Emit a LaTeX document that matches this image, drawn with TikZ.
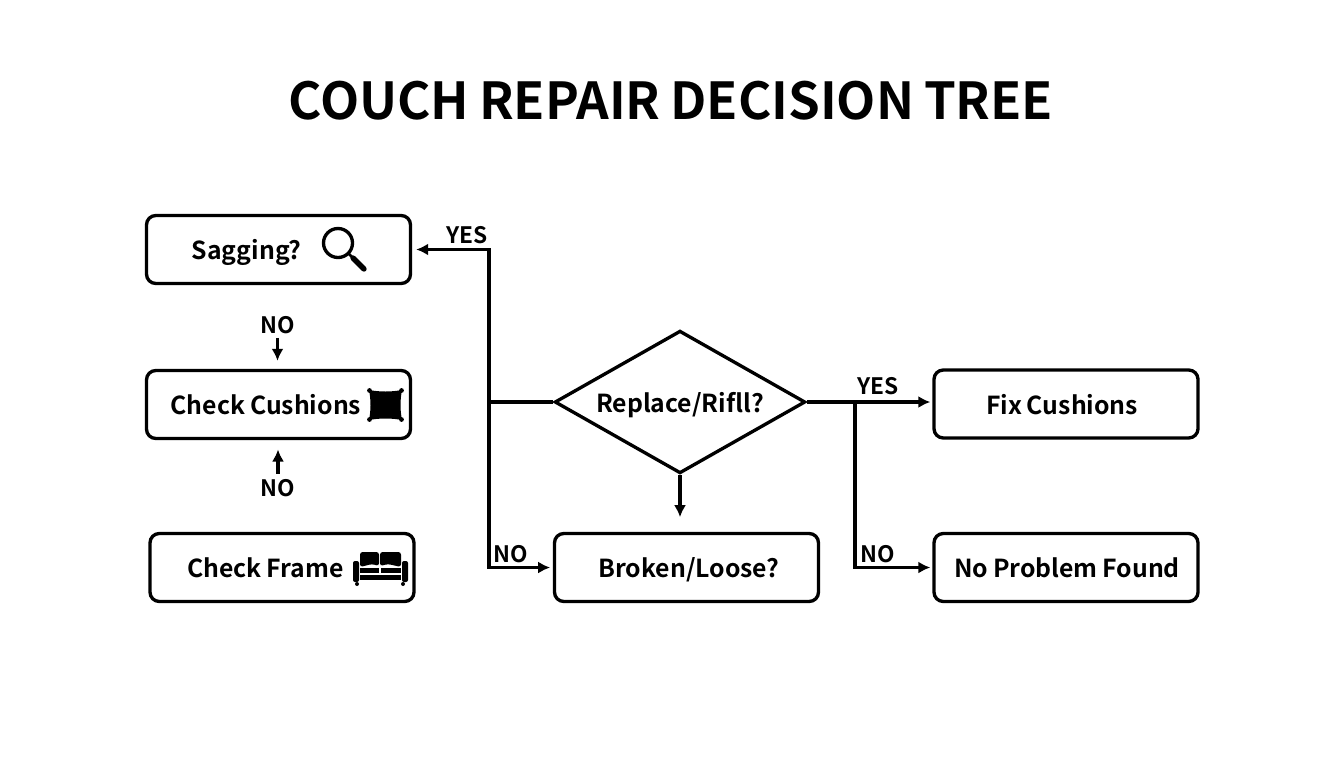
\documentclass[tikz,border=0pt]{standalone}
\usepackage{fontspec}
\setmainfont{Noto Sans CJK SC}[BoldFont={* Bold},WordSpace=0.85]
\usetikzlibrary{arrows.meta,shapes.geometric}
\newcommand{\pad}[1]{\spaceskip=.2em\relax\hspace*{#1pt}}
\tikzset{
    box/.style={draw, line width=2.5pt, rounded corners=7pt, inner sep=0pt,
        text width=198pt, minimum height=51pt, align=left,
        text height=17pt, text depth=1.5pt, font=\bfseries\fontsize{18.6}{22}\selectfont},
    choice/.style={draw, diamond, line width=2.5pt, inner sep=0pt, aspect=1.75,
        minimum width=188pt, minimum height=107pt,
        text height=17pt, text depth=1.5pt, font=\bfseries\fontsize{18.6}{22}\selectfont},
    flow/.style={line width=2.3pt, -{Latex[length=9pt,width=9pt]}},
    link/.style={line width=2.3pt},
    tag/.style={inner sep=0pt, font=\bfseries\fontsize{17}{20}\selectfont},
}
\begin{document}
\begin{tikzpicture}[x=0.75pt,y=-0.75pt]
    \useasboundingbox (0,0) rectangle (1344,768);

    % Title
    \node[inner sep=0pt, font=\bfseries\fontsize{38.2}{46}\selectfont] (title) at (671,101) {COUCH REPAIR DECISION TREE};

    % Left column
    \node[box] (sagging) at (278.5,249.5) {\pad{34}Sagging?};
    \node[box] (cushions) at (278.5,404.5) {\pad{18}Check Cushions};
    \node[box] (frame) at (282,567.5) {\pad{28}Check Frame};

    % Decision and right side
    \node[choice] (replace) at (680,402) {Replace/Rifll?};
    \node[box] (broken) at (686.5,567.5) {\pad{33}Broken/Loose?};
    \node[box] (fix) at (1066,404) {\pad{39}Fix Cushions};
    \node[box] (nofault) at (1066,567.5) {\pad{15}No Problem Found};

    % Labels
    \node[tag] (yesleft) at (467,235) {YES};
    \node[tag] (yesright) at (878,386) {YES};
    \node[tag] (notop) at (277.5,325) {NO};
    \node[tag] (nobottom) at (278,488) {NO};
    \node[tag] (nomiddle) at (510.5,554) {NO};
    \node[tag] (noright) at (877.5,554) {NO};

    % Connectors
    \coordinate (split) at (489,402);
    \coordinate (branch) at (855,402);
    \draw[link] (replace.west) -- (split);
    \draw[flow, shorten >=3pt] (split) |- (sagging.east);
    \draw[flow, shorten >=2pt] (split) |- (broken.west);
    \draw[flow, shorten >=1.5pt] (replace.east) -- (replace.east -| fix.west);
    \draw[flow, shorten >=1.5pt] (branch) |- (nofault.west);
    \draw[flow, shorten >=11pt] (replace.south) -- (replace.south |- broken.north);
    \draw[flow, shorten <=3pt, shorten >=6pt] (notop) -- (notop |- cushions.north);
    \draw[flow, shorten <=4pt, shorten >=7pt] (nobottom) -- (nobottom |- cushions.south);

    % Magnifier
    \draw[line width=2.5pt] (338,243) circle (14.5);
    \draw[line width=2pt] (349,254) -- (354,259);
    \draw[line width=4pt, line cap=round] (353,258) -- (364,269);

    % Cushion
    \fill (369,390) .. controls (380,392) and (391,392) .. (402,390)
        .. controls (400,400) and (400,410) .. (402,420)
        .. controls (391,418) and (380,418) .. (369,420)
        .. controls (371,410) and (371,400) .. (369,390) -- cycle;
    \foreach \x/\y in {369.5/390.5,401.5/390.5,369.5/419.5,401.5/419.5}
        \fill (\x,\y) circle (2.4);

    % Sofa
    \fill[rounded corners=2pt] (360,567) -- (360,552) -- (379,552) -- (379,566) -- (372,564) -- cycle;
    \fill[rounded corners=2pt] (380,566) -- (380,552) -- (401,552) -- (401,567) -- (388,564) -- cycle;
    \fill[rounded corners=1.5pt] (353,561) rectangle (359,582);
    \fill[rounded corners=1.5pt] (402,561) rectangle (408,582);
    \fill (360,568) rectangle (379,572.5);
    \fill (381,568) rectangle (401,572.5);
    \fill (360,574.5) rectangle (401,580);
    \fill (357,584) circle (2);
    \fill (403,584) circle (2);
\end{tikzpicture}
\end{document}
